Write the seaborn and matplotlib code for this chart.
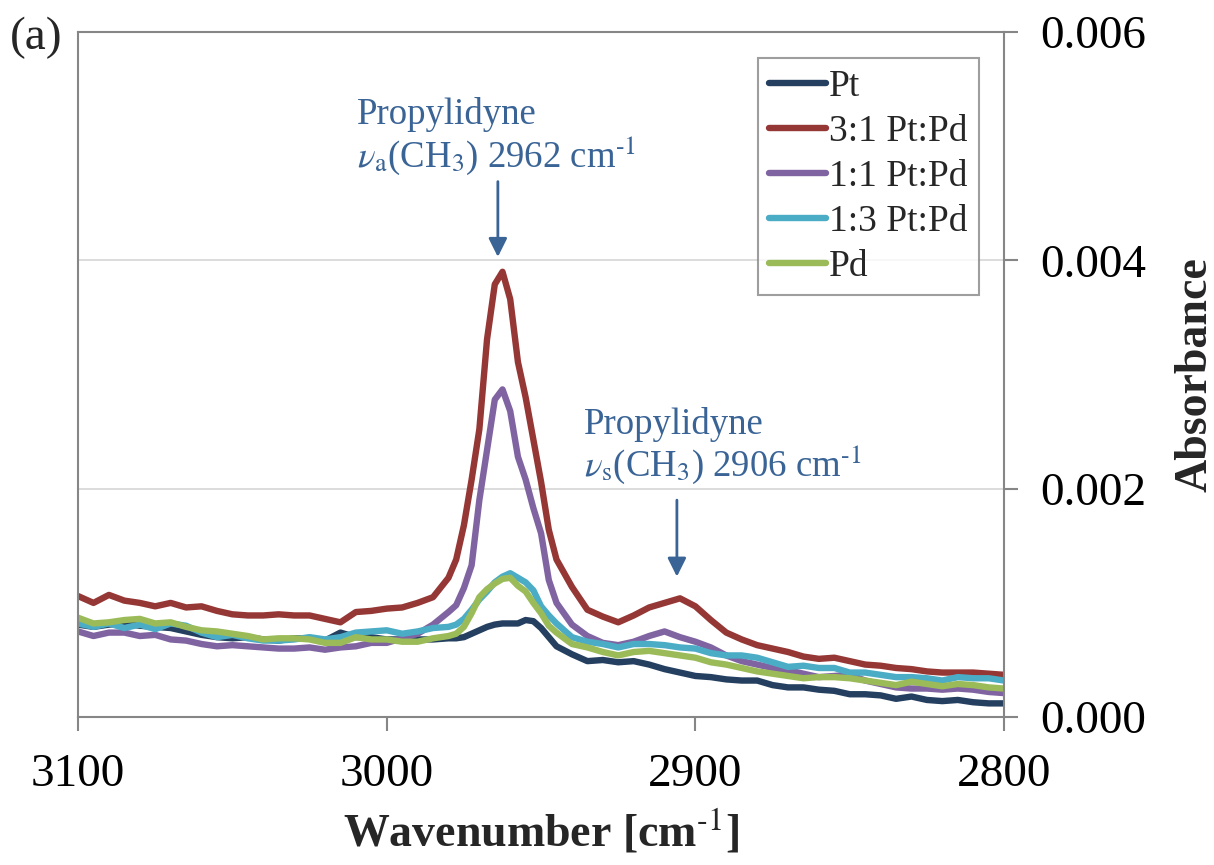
import numpy as np
import pandas as pd
import seaborn as sns
import matplotlib.pyplot as plt
from matplotlib.ticker import FormatStrFormatter

# wavenumber grid (cm-1), finer around the 2962 peak
wavenumber = [3100, 3095, 3090, 3085, 3080, 3075, 3070, 3065, 3060, 3055,
              3050, 3045, 3040, 3035, 3030, 3025, 3020, 3015, 3010, 3005,
              3000, 2995, 2990, 2985, 2980,
              2977.5, 2975, 2972.5, 2970, 2967.5, 2965, 2962.5, 2960, 2957.5,
              2955, 2952.5, 2950, 2947.5, 2945,
              2940, 2935, 2930, 2925, 2920, 2915, 2910, 2905, 2900, 2895,
              2890, 2885, 2880, 2875, 2870, 2865, 2860, 2855, 2850, 2845,
              2840, 2835, 2830, 2825, 2820, 2815, 2810, 2805, 2800]

# absorbance in units of 1e-3
pt = [0.81, 0.79, 0.81, 0.82, 0.80, 0.79, 0.78, 0.75, 0.72, 0.70,
      0.69, 0.70, 0.68, 0.67, 0.69, 0.69, 0.67, 0.74, 0.70, 0.70,
      0.68, 0.68, 0.68, 0.68, 0.69,
      0.69, 0.70, 0.73, 0.76, 0.79, 0.81, 0.82, 0.82, 0.82,
      0.85, 0.84, 0.78, 0.70, 0.62,
      0.55, 0.49, 0.50, 0.48, 0.49, 0.46, 0.42, 0.39, 0.36, 0.35,
      0.33, 0.32, 0.32, 0.28, 0.26, 0.26, 0.24, 0.23, 0.20, 0.20,
      0.19, 0.16, 0.18, 0.15, 0.14, 0.15, 0.13, 0.12, 0.12]
ptpd_31 = [1.06, 1.00, 1.07, 1.02, 1.00, 0.97, 1.00, 0.96, 0.97, 0.93,
           0.90, 0.89, 0.89, 0.90, 0.89, 0.89, 0.86, 0.83, 0.92, 0.93,
           0.95, 0.96, 1.00, 1.05, 1.22,
           1.38, 1.68, 2.08, 2.52, 3.31, 3.79, 3.90, 3.66, 3.11,
           2.80, 2.43, 2.06, 1.64, 1.38,
           1.14, 0.94, 0.88, 0.83, 0.89, 0.96, 1.00, 1.04, 0.97, 0.85,
           0.74, 0.68, 0.63, 0.60, 0.57, 0.53, 0.51, 0.52, 0.49, 0.46,
           0.45, 0.43, 0.42, 0.40, 0.39, 0.39, 0.39, 0.38, 0.37]
ptpd_11 = [0.75, 0.71, 0.74, 0.74, 0.71, 0.72, 0.68, 0.67, 0.64, 0.62,
           0.63, 0.62, 0.61, 0.60, 0.60, 0.61, 0.59, 0.61, 0.62, 0.65,
           0.65, 0.69, 0.73, 0.81, 0.92,
           0.98, 1.13, 1.33, 1.90, 2.34, 2.78, 2.87, 2.68, 2.28,
           2.08, 1.83, 1.61, 1.20, 1.00,
           0.81, 0.71, 0.65, 0.63, 0.66, 0.71, 0.75, 0.70, 0.66, 0.61,
           0.54, 0.49, 0.46, 0.43, 0.41, 0.38, 0.35, 0.36, 0.37, 0.32,
           0.29, 0.26, 0.25, 0.25, 0.24, 0.25, 0.24, 0.22, 0.21]
ptpd_13 = [0.82, 0.79, 0.82, 0.78, 0.81, 0.77, 0.82, 0.80, 0.74, 0.70,
           0.72, 0.69, 0.67, 0.67, 0.68, 0.70, 0.68, 0.70, 0.74, 0.75,
           0.76, 0.73, 0.75, 0.78, 0.79,
           0.81, 0.86, 0.94, 1.03, 1.10, 1.18, 1.23, 1.26, 1.22,
           1.18, 1.11, 0.97, 0.89, 0.82,
           0.70, 0.66, 0.64, 0.61, 0.64, 0.64, 0.63, 0.61, 0.60, 0.56,
           0.54, 0.54, 0.52, 0.48, 0.44, 0.45, 0.43, 0.43, 0.39, 0.39,
           0.37, 0.35, 0.35, 0.34, 0.32, 0.35, 0.34, 0.34, 0.32]
pd_ = [0.87, 0.82, 0.83, 0.85, 0.86, 0.82, 0.83, 0.79, 0.76, 0.75,
       0.73, 0.71, 0.68, 0.69, 0.69, 0.68, 0.65, 0.65, 0.70, 0.68,
       0.68, 0.66, 0.66, 0.69, 0.71,
       0.73, 0.79, 0.91, 1.05, 1.12, 1.17, 1.21, 1.22, 1.15,
       1.10, 1.00, 0.91, 0.80, 0.74,
       0.64, 0.61, 0.57, 0.54, 0.57, 0.58, 0.56, 0.54, 0.52, 0.48,
       0.46, 0.43, 0.40, 0.38, 0.36, 0.34, 0.35, 0.35, 0.34, 0.32,
       0.30, 0.28, 0.31, 0.29, 0.27, 0.29, 0.28, 0.26, 0.25]

samples = ["Pt", "3:1 Pt:Pd", "1:1 Pt:Pd", "1:3 Pt:Pd", "Pd"]
series = [pt, ptpd_31, ptpd_11, ptpd_13, pd_]
colors = ["#243F60", "#953735", "#8064A2", "#4BACC6", "#9BBB59"]

df = pd.concat([
    pd.DataFrame({"Wavenumber": wavenumber,
                  "Absorbance": np.array(vals) * 1e-3,
                  "Sample": name})
    for name, vals in zip(samples, series)
], ignore_index=True)

sns.set_theme(style="white")
plt.rcParams["font.family"] = ["Liberation Serif", "DejaVu Serif"]
plt.rcParams["mathtext.fontset"] = "stix"

GREY = "#868686"
NOTE = "#3A6496"
LW = 4.6

fig = plt.figure(figsize=(12.14, 8.65), dpi=100)
ax = fig.add_axes([0.0643, 0.171, 0.7628, 0.792])

sns.lineplot(data=df, x="Wavenumber", y="Absorbance", hue="Sample",
             hue_order=samples, palette=colors, linewidth=LW,
             errorbar=None, ax=ax)

ax.set_xlim(3100, 2800)
ax.set_ylim(0, 0.006)
ax.set_xticks([3100, 3000, 2900, 2800])
ax.set_yticks([0, 0.002, 0.004, 0.006])
ax.yaxis.set_major_formatter(FormatStrFormatter("%.3f"))
ax.yaxis.tick_right()
ax.yaxis.set_label_position("right")
ax.tick_params(axis="both", direction="out", length=10, width=1.5,
               color=GREY, labelsize=34, labelcolor="black")
ax.tick_params(axis="x", bottom=True, pad=16)
ax.tick_params(axis="y", right=True, left=False, pad=16)

ax.yaxis.grid(True, color="#D9D9D9", linewidth=1.3)
ax.xaxis.grid(False)
for sp in ax.spines.values():
    sp.set_color(GREY)
    sp.set_linewidth(1.5)

ax.set_xlabel(r"Wavenumber [cm$^{\mathbf{\text{-1}}}$]", fontsize=33,
              fontweight="bold", labelpad=8)
ax.set_ylabel("Absorbance", fontsize=33, fontweight="bold", labelpad=20)

# peak annotations
ax.text(3009.7, 0.00519, "Propylidyne", fontsize=26.5, color=NOTE, va="baseline")
ax.text(3009.7, 0.00482, r"$\nu_\mathrm{a}$(CH$_3$) 2962 cm$^{\text{-1}}$",
        fontsize=26.5, color=NOTE, va="baseline")
ax.annotate("", xy=(2964, 0.00403), xytext=(2964, 0.00469),
            arrowprops=dict(arrowstyle="-|>", color=NOTE, lw=2,
                            mutation_scale=28, shrinkA=0, shrinkB=0))
ax.text(2936.2, 0.00248, "Propylidyne", fontsize=26.5, color=NOTE, va="baseline")
ax.text(2936.2, 0.00211, r"$\nu_\mathrm{s}$(CH$_3$) 2906 cm$^{\text{-1}}$",
        fontsize=26.5, color=NOTE, va="baseline")
ax.annotate("", xy=(2906, 0.00123), xytext=(2906, 0.0019),
            arrowprops=dict(arrowstyle="-|>", color=NOTE, lw=2,
                            mutation_scale=28, shrinkA=0, shrinkB=0))

leg = ax.legend(title=None, loc="upper right", bbox_to_anchor=(0.973, 0.962),
                borderaxespad=0, fontsize=27, frameon=True, fancybox=False,
                handlelength=1.5, handletextpad=0.1, labelspacing=0.28,
                borderpad=0.3)
leg.get_frame().set_edgecolor(GREY)
leg.get_frame().set_linewidth(1.5)
for line in leg.get_lines():
    line.set_linewidth(LW)

fig.text(10 / 1214, 1 - 38 / 865, "(a)", fontsize=34, va="center", ha="left")

fig.savefig("out.png", dpi=100)
